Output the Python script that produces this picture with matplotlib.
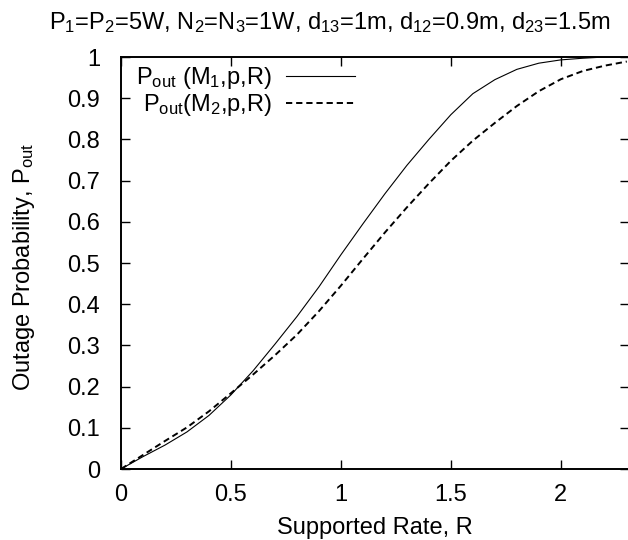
import matplotlib
matplotlib.use('Agg')
import matplotlib.pyplot as plt

plt.rcParams['font.family'] = ['Liberation Sans', 'DejaVu Sans']
plt.rcParams['mathtext.fontset'] = 'custom'
plt.rcParams['mathtext.rm'] = 'Liberation Sans'
plt.rcParams['mathtext.it'] = 'Liberation Sans'
plt.rcParams['lines.scale_dashes'] = False

# Supported rate R
rate = [0.0, 0.1, 0.2, 0.3, 0.4, 0.5, 0.6, 0.7, 0.8, 0.9, 1.0, 1.1,
        1.2, 1.3, 1.4, 1.5, 1.6, 1.7, 1.8, 1.9, 2.0, 2.1, 2.2, 2.3]

# outage probability for M1 (solid) and M2 (dashed)
pout_m1 = [0.0, 0.030, 0.058, 0.090, 0.130, 0.180, 0.238, 0.303, 0.370, 0.442,
           0.520, 0.595, 0.668, 0.737, 0.800, 0.860, 0.911, 0.945, 0.970, 0.985,
           0.993, 0.997, 1.0, 1.0]
pout_m2 = [0.0, 0.034, 0.068, 0.101, 0.140, 0.184, 0.229, 0.276, 0.326, 0.383,
           0.445, 0.510, 0.574, 0.635, 0.693, 0.748, 0.797, 0.840, 0.881, 0.917,
           0.946, 0.966, 0.979, 0.989]

xticks = [0, 0.5, 1, 1.5, 2]
xticklabels = ['0', '0.5', '1', '1.5', '2']
yticks = [0, 0.1, 0.2, 0.3, 0.4, 0.5, 0.6, 0.7, 0.8, 0.9, 1]
yticklabels = ['0', '0.1', '0.2', '0.3', '0.4', '0.5', '0.6', '0.7', '0.8', '0.9', '1']

FS = 17

W, H = 628, 540
fig = plt.figure(figsize=(W / 100, H / 100), dpi=100)
ax = fig.add_axes([121 / W, (H - 469) / H, 508 / W, 412 / H])

ax.plot(rate, pout_m1, color='black', linewidth=0.8,
        label=r'P$_{\mathregular{out}}$ (M$_{\mathregular{1}}$,p,R)')
ax.plot(rate, pout_m2, color='black', linewidth=1.4, linestyle=(0, (4.5, 2.8)),
        label=r'P$_{\mathregular{out}}$(M$_{\mathregular{2}}$,p,R)')

ax.set_xlim(0, 2.31)
ax.set_ylim(0, 1)
ax.set_xticks(xticks)
ax.set_xticklabels(xticklabels)
ax.set_yticks(yticks)
ax.set_yticklabels(yticklabels)
ax.tick_params(direction='in', length=6.5, width=1.0, top=True, right=True,
               labelsize=FS)
ax.tick_params(axis='x', pad=11)
ax.tick_params(axis='y', pad=15)
for sp in ax.spines.values():
    sp.set_linewidth(1.4)

ax.set_xlabel('Supported Rate, R', fontsize=FS)
ax.xaxis.set_label_coords(0.5, -0.117)
ax.set_ylabel(r'Outage Probability, P$_{\mathregular{out}}$', fontsize=FS)
ax.yaxis.set_label_coords(-0.165, 0.49)
ax.set_title(r'P$_{1}$=P$_{2}$=5W, N$_{2}$=N$_{3}$=1W, d$_{13}$=1m, d$_{12}$=0.9m, d$_{23}$=1.5m',
             fontsize=FS, pad=20, x=(330 - 121) / 508)

ax.legend(loc='upper left', bbox_to_anchor=(0.03, 0.98), frameon=False,
          markerfirst=False, fontsize=FS, handlelength=2.9,
          handletextpad=0.6, labelspacing=0.05, borderaxespad=0, borderpad=0)

fig.savefig('out.png', dpi=100)
